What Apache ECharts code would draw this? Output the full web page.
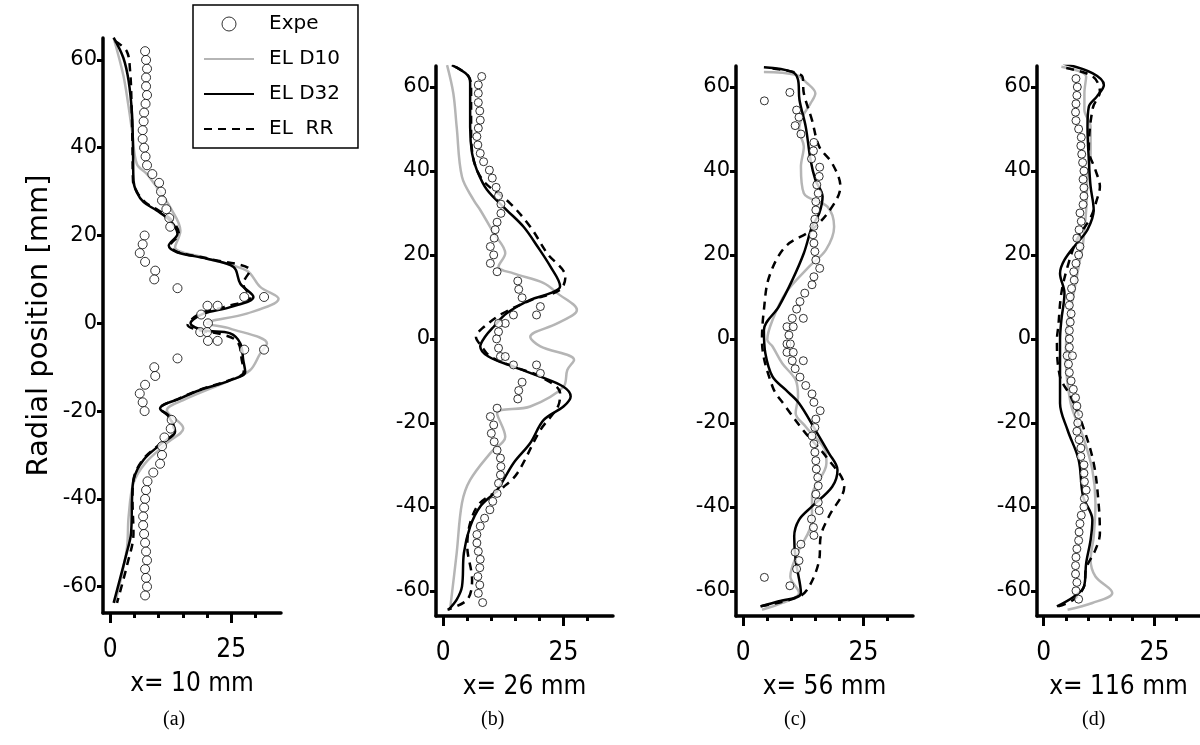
<!DOCTYPE html>
<html>
<head>
<meta charset="utf-8">
<script src="https://cdn.jsdelivr.net/npm/echarts@6/dist/echarts.min.js"></script>
<style>html,body{margin:0;padding:0;background:#fff}#c{width:1200px;height:745px}</style>
</head>
<body>
<div id="c"></div>
<script>
// ---- data: pairs are [radial position (mm), value] ----
const panelTitles = ['x= 10 mm', 'x= 26 mm', 'x= 56 mm', 'x= 116 mm'];
const panelLetters = ['(a)', '(b)', '(c)', '(d)'];
const seriesNames = ['Expe', 'EL D10', 'EL D32', 'EL  RR'];
const xTicks = [0, 5, 10, 15, 20, 25, 30];
const xLabels = [0, 25];
const yTicks = [-60, -40, -20, 0, 20, 40, 60];

const aExpe = [[62,7.2],[60,7.4],[58,7.6],[56,7.4],[54,7.4],[52,7.6],[50,7.3],[48,7.0],[46,6.9],[44,6.7],[42,6.7],[40,7.0],[38,7.3],[36,7.6],[34,8.7],[32,10.1],[30,10.5],[28,10.7],[26,11.6],[24,12.2],[22,12.4],[20,7.1],[18,6.7],[16,6.1],[14,7.2],[12,9.3],[10,9.1],[8,13.9],[6,27.7],[6,31.8],[4,20.1],[4,22.2],[2,18.8],[0,20.2],[-2,18.6],[-2,20.0],[-4,20.2],[-4,22.2],[-6,27.7],[-6,31.8],[-8,13.9],[-10,9.1],[-12,9.3],[-14,7.2],[-16,6.1],[-18,6.7],[-20,7.1],[-22,12.7],[-24,12.5],[-26,11.2],[-28,10.7],[-30,10.7],[-32,10.3],[-34,8.9],[-36,7.7],[-38,7.4],[-40,7.2],[-42,7.0],[-44,6.8],[-46,6.8],[-48,7.0],[-50,7.2],[-52,7.4],[-54,7.6],[-56,7.2],[-58,7.4],[-60,7.6],[-62,7.2]];
const aD10 = [[65,0.7],[56.5,2.7],[50,3.7],[43.9,4.5],[36.3,5.5],[34,7.6],[31,9.6],[26.4,12.4],[21.1,14.5],[17.3,13.4],[15,19.3],[12,28.2],[8.3,31],[5.6,34.8],[2.2,28.2],[0,20],[-1.2,24.8],[-4.6,32.4],[-6.9,31],[-10.7,28.9],[-13,24.8],[-17.5,15.1],[-19.8,11.7],[-23.9,15.1],[-27.3,11.7],[-31.9,7.2],[-36.4,4.8],[-44,3.8],[-51.6,3.4],[-63.7,1.0]];
const aD32 = [[65.1,0.7],[60.5,2.7],[55.2,3.8],[47.7,4.5],[40,4.7],[32.5,4.8],[29.8,5.5],[27.6,6.9],[25.7,9.6],[23.4,12.4],[20.4,13.9],[17.7,12.1],[16.2,13.8],[14.7,20],[12.8,25.5],[9,26.9],[6,29.6],[3.7,24.8],[2.2,19.3],[0,16.6],[-1.6,19.3],[-2.3,24.8],[-4.6,26.9],[-8.4,27.5],[-11.1,27.9],[-13,24.8],[-15.2,18.6],[-17.1,14.5],[-19.4,10.3],[-21.3,12.1],[-24.7,13.4],[-27.3,10.7],[-31.1,6.9],[-35.7,4.8],[-40.2,4.5],[-47.8,4.3],[-52.3,3.4],[-63.7,0.7]];
const aRR = [[64.3,1.0],[62,3.4],[57.5,4.1],[50,4.4],[40,4.6],[32.5,4.7],[29.8,5.6],[27.6,7.2],[25.7,10],[23.4,12.8],[20.4,14.2],[17.7,12.4],[16.2,14],[14.7,20.5],[12,28.9],[9,27.5],[6,29],[3.7,23.5],[2.2,18.5],[-0.4,16],[-1.6,18.5],[-2.5,23],[-4.2,26.3],[-8.4,27.2],[-11.1,27.6],[-13,24.5],[-15.2,18.3],[-17.1,14.3],[-19.4,10.3],[-21.3,12.3],[-24.7,13.2],[-27.3,10.5],[-31.1,6.7],[-35.7,4.8],[-40.2,4.6],[-47.8,4.8],[-55,3.5],[-63.7,1.4]];

const bExpe = [[62.5,8.0],[60.5,7.3],[58.5,7.3],[56.3,7.3],[54.3,7.6],[52.1,7.7],[50.2,7.3],[48.2,7.0],[46.2,7.2],[44.2,7.7],[42.2,8.4],[40.2,9.6],[38.3,10.2],[36.1,11.0],[34.1,11.5],[32.1,12.0],[29.9,12.0],[27.8,11.2],[26,10.8],[24,10.6],[22,9.8],[20,10.5],[18,9.8],[16,11.2],[13.8,15.5],[11.8,15.7],[9.8,16.4],[7.7,20.2],[5.7,19.4],[5.7,14.6],[3.7,12.9],[3.7,11.5],[1.7,11.5],[0,11.1],[-2.2,11.5],[-4.2,11.9],[-4.2,12.9],[-6.2,14.6],[-6.2,19.4],[-8.2,20.2],[-10.3,16.4],[-12.3,15.7],[-14.3,15.5],[-16.5,11.2],[-18.5,9.8],[-20.5,10.5],[-22.5,10.0],[-24.5,10.6],[-26.5,11.2],[-28.4,11.9],[-30.4,12.0],[-32.4,11.9],[-34.4,11.5],[-36.8,11.2],[-38.7,10.3],[-40.7,9.7],[-42.7,8.6],[-44.6,7.7],[-46.6,7.0],[-48.6,7.0],[-50.6,7.3],[-52.5,7.7],[-54.5,7.6],[-56.6,7.2],[-58.6,7.6],[-60.6,7.3],[-62.8,8.2]];
const bD10 = [[65.2,0.8],[58.5,2.1],[50.5,2.8],[38.6,3.9],[33.1,6.3],[30.7,7.7],[25.2,10.5],[20.4,12.9],[17.2,11.5],[15.6,14.6],[13.3,20.9],[10.9,23.7],[6.9,27.8],[3.7,23.7],[0.5,18.1],[-1.8,20.2],[-5,27.2],[-7.4,25.8],[-11.4,25.0],[-16.1,18.1],[-17.7,11.2],[-23.3,12.9],[-27.2,9.8],[-33.6,5.6],[-39.1,3.9],[-51,2.8],[-63.7,1.5]];
const bD32 = [[65.2,1.8],[62.9,5.0],[60.9,5.6],[50.5,5.6],[44.2,6.0],[40.2,7.0],[35.5,9.1],[30.7,13.2],[26.7,16.7],[22,19.6],[17.2,22.3],[12.5,24.3],[10.9,22.3],[9.3,18.1],[6.1,13.2],[2.9,10.5],[0.5,8.7],[-1.8,7.7],[-4.2,9.4],[-6.6,14.6],[-9,20.2],[-11.4,25.0],[-13.7,26.5],[-16.1,25.0],[-19.3,20.9],[-24.8,18.1],[-29.6,14.6],[-36,11.2],[-39.9,7.7],[-44.7,5.6],[-51,4.3],[-59,3.9],[-62.1,2.8],[-64.5,1.1]];
const bRR = [[64.8,2.6],[62.5,5.3],[60,5.8],[50,5.8],[44,6.1],[38,8.1],[32.3,13.9],[26.7,18.1],[20.4,21.6],[14.8,25.4],[11.7,24.3],[9.3,18.4],[6.1,12.4],[2.5,8.1],[0.5,6.8],[-1.8,8.0],[-4.2,9.8],[-6.6,14.6],[-9,20.2],[-12.9,24.3],[-16,23.9],[-21.7,20.2],[-32,15.4],[-35.2,12.6],[-40,7.0],[-49.4,5.0],[-57.4,6.0],[-62.1,5.0],[-64.5,0.9]];

const cExpe = [[58.7,9.7],[56.7,4.4],[54.5,11.1],[52.8,11.6],[50.8,10.8],[48.8,12.0],[46.8,14.7],[44.8,14.6],[42.9,14.2],[40.9,15.9],[38.7,15.8],[36.7,15.3],[34.7,15.6],[32.7,15.1],[30.7,15.1],[28.5,14.9],[26.8,14.7],[24.8,14.5],[22.8,14.7],[20.8,14.9],[18.8,15.1],[16.8,15.9],[14.8,14.7],[12.9,14.3],[10.9,12.8],[8.9,11.8],[7.1,11.1],[4.9,12.5],[4.9,10.2],[2.9,9.1],[2.9,10.4],[0.9,9.5],[-1.2,9.1],[-1.2,9.8],[-3.2,9.1],[-3.2,10.4],[-5.2,10.2],[-5.2,12.5],[-7.1,10.8],[-9.1,11.8],[-11.1,13.0],[-13.1,14.3],[-15.1,14.7],[-17.1,16.0],[-19.1,15.1],[-21.1,14.9],[-23.1,14.3],[-25,14.7],[-27,14.9],[-29,15.1],[-31,15.2],[-33,15.5],[-35,15.6],[-37,15.1],[-38.9,15.6],[-40.9,15.8],[-42.9,14.2],[-44.9,14.6],[-46.8,14.7],[-48.9,12.0],[-50.8,10.8],[-52.8,11.6],[-54.8,11.1],[-56.8,4.4],[-58.8,9.7]];
const cD10 = [[63.6,4.3],[62.9,10.9],[60.9,13.3],[58.5,15.0],[56.1,14.0],[52.9,12.3],[49.8,11.6],[45.8,12.6],[41,12.0],[34.7,12.6],[31.5,17.5],[26.7,18.9],[21.2,17.2],[17.2,13.7],[10.9,8.8],[4.5,6.1],[-0.2,5.0],[-1.8,6.1],[-5.8,8.1],[-9.8,10.9],[-13.7,11.4],[-17.7,10.9],[-20.9,13.0],[-27.2,17.2],[-29.6,17.3],[-37.5,14.3],[-43.1,14.3],[-51,11.3],[-56.6,9.8],[-60.5,11.6],[-62.9,8.1],[-64.5,3.9]];
const cD32 = [[64.7,4.3],[63.6,10.2],[61.7,11.4],[56.9,11.7],[50.5,13.0],[42.6,14.0],[37.9,15.0],[33.9,16.5],[29.9,15.8],[26.7,14.3],[20.4,12.6],[14,10.2],[7.7,7.4],[2.1,4.3],[-3.4,4.6],[-9,6.1],[-12.1,8.8],[-15.3,11.6],[-21.7,15.0],[-27.2,17.8],[-31.2,19.6],[-35.2,18.5],[-39.9,14.3],[-43.1,11.6],[-47.1,10.6],[-52.6,10.9],[-60.5,12.0],[-62.5,7.4],[-63.7,3.6]];
const cRR = [[64.4,6.1],[62.5,12.3],[58.5,12.6],[52.1,14.3],[45.8,15.8],[41.8,18.5],[36.3,20.2],[31.5,18.5],[26,14.3],[22,8.8],[14.8,5.4],[6.9,4.3],[-0.2,3.9],[-11.4,6.1],[-16.1,8.8],[-22.5,13.0],[-28,17.2],[-35.2,21.0],[-42.3,17.8],[-47.1,16.1],[-52.6,15.8],[-59,13.7],[-61.4,11.6],[-63.7,3.6]];

const dExpe = [[62,7.3],[60,7.6],[58,7.5],[56,7.3],[54,7.2],[52,7.3],[50,7.9],[48,8.5],[46,8.4],[44,8.6],[42,8.8],[40,9.1],[38,8.9],[36,9.1],[34,9.1],[32,8.9],[30,8.2],[28,8.5],[26,8.0],[24,7.5],[22,8.2],[20,7.9],[18,7.3],[16,6.8],[14,6.9],[12,6.3],[10,6.0],[8,5.8],[6,6.2],[4,6.0],[2,5.8],[0,5.8],[-2,5.8],[-4,5.3],[-4,6.5],[-6,5.6],[-8,5.8],[-10,6.2],[-12,6.7],[-14,7.2],[-16,7.5],[-18,7.9],[-20,7.7],[-22,7.5],[-24,8.0],[-26,8.4],[-28,8.4],[-30,9.1],[-32,9.1],[-34,9.2],[-36,9.6],[-38,9.2],[-40,9.1],[-42,8.5],[-44,8.2],[-46,8.0],[-48,7.9],[-50,7.5],[-52,7.3],[-54,7.2],[-56,7.2],[-58,7.5],[-60,7.3],[-62,7.9]];
const dD10 = [[64.8,4.0],[62.5,9.6],[58.5,9.2],[54.5,9.2],[50.5,10.6],[44.2,10.6],[38.6,9.9],[30.7,9.6],[22.8,8.9],[17.2,7.9],[10.9,6.8],[2.9,5.4],[-3.4,5.0],[-15.3,6.1],[-23.3,8.9],[-31.2,11.0],[-39.1,11.7],[-47.1,11.3],[-52.6,10.6],[-56.6,11.7],[-60.5,15.5],[-62.9,11.0],[-64.5,5.4]];
const dD32 = [[65.6,4.4],[63.3,11.0],[60.5,13.6],[57.7,12.0],[55.3,10.2],[50.5,9.9],[42.6,10.2],[36.3,10.6],[30.7,11.3],[26,9.9],[22.8,7.5],[18.8,4.7],[15.6,3.7],[10.9,4.7],[4.5,4.0],[-0.2,3.7],[-3.4,3.7],[-15.3,3.7],[-21.7,5.4],[-28.8,7.9],[-37.5,8.9],[-43.1,11.0],[-47.9,10.6],[-53.4,9.6],[-59,9.1],[-61.4,6.8],[-63.7,3.0]];
const dRR = [[64.5,5.1],[62.5,11.1],[58.9,12.7],[55,11.1],[45,10.2],[40.2,11.7],[36.3,12.7],[33.1,12.0],[28.9,10.6],[23.6,7.5],[17.2,5.4],[10.9,4.0],[2.9,3.3],[-0.2,3.0],[-9,3.7],[-13.7,6.1],[-20.9,8.9],[-29.6,11.3],[-39.1,12.4],[-46.3,12.7],[-50.2,11.7],[-54.6,9.6],[-59,9.1],[-62.1,6.8],[-63.7,3.3]];

const panels = [
  {expe: aExpe, d10: aD10, d32: aD32, rr: aRR},
  {expe: bExpe, d10: bD10, d32: bD32, rr: bRR},
  {expe: cExpe, d10: cD10, d32: cD32, rr: cRR},
  {expe: dExpe, d10: dD10, d32: dD32, rr: dRR}
];

// ---- layout / style ----
const grids = [
  {left: 103, top: 38, width: 178, height: 575},
  {left: 436, top: 66, width: 177, height: 550},
  {left: 736, top: 66, width: 177, height: 550},
  {left: 1037, top: 66, width: 177, height: 550}
];
const letterPos = [175, 493, 796, 1094];
const X_MIN = -1.5, X_MAX = 35.3, Y_MIN = -66, Y_MAX = 65;
const GRAY = '#b5b5b5';
const numFont = 'DejaVu Sans';
const narrowFont = "'Liberation Sans Narrow', 'DejaVu Sans Condensed', 'Liberation Sans', sans-serif";

const toXY = arr => arr.map(p => [p[1], p[0]]);

const xAxis = [], yAxis = [], series = [];
grids.forEach((g, i) => {
  xAxis.push({
    type: 'value', gridIndex: i, min: X_MIN, max: X_MAX,
    splitLine: {show: false},
    axisLine: {show: true, onZero: false, lineStyle: {color: '#000', width: 3.5}},
    axisTick: {show: true, length: 5, lineStyle: {color: '#000', width: 3}, customValues: xTicks},
    axisLabel: {show: true, customValues: xLabels, margin: 24, color: '#000', fontSize: 26, fontFamily: narrowFont},
    name: panelTitles[i], nameLocation: 'middle', nameGap: 58,
    nameTextStyle: {color: '#000', fontSize: 26, fontFamily: narrowFont}
  });
  yAxis.push({
    type: 'value', gridIndex: i, min: Y_MIN, max: Y_MAX,
    splitLine: {show: false},
    axisLine: {show: true, onZero: false, lineStyle: {color: '#000', width: 3.5}},
    axisTick: {show: true, length: 6, lineStyle: {color: '#000', width: 3}, customValues: yTicks},
    axisLabel: {show: true, customValues: yTicks, margin: 6, color: '#000', fontSize: 21, fontFamily: numFont},
    name: i === 0 ? 'Radial position [mm]' : '', nameLocation: 'middle', nameGap: 49,
    nameTextStyle: {color: '#000', fontSize: 29, fontFamily: numFont}
  });
});
// second x axes for the longer major ticks at 0 and 25
grids.forEach((g, i) => {
  xAxis.push({
    type: 'value', gridIndex: i, min: X_MIN, max: X_MAX, position: 'bottom',
    splitLine: {show: false}, axisLine: {show: false, onZero: false},
    axisTick: {show: true, length: 10, lineStyle: {color: '#000', width: 3}, customValues: xLabels},
    axisLabel: {show: false}
  });
});

panels.forEach((p, i) => {
  series.push({
    name: seriesNames[1], type: 'line', xAxisIndex: i, yAxisIndex: i,
    data: toXY(p.d10), smooth: 0.35, symbol: 'none',
    lineStyle: {color: GRAY, width: 2.5}, itemStyle: {color: GRAY}, z: 2
  });
  series.push({
    name: seriesNames[2], type: 'line', xAxisIndex: i, yAxisIndex: i,
    data: toXY(p.d32), smooth: 0.35, symbol: 'none',
    lineStyle: {color: '#000', width: 2.5}, itemStyle: {color: '#000'}, z: 3
  });
  series.push({
    name: seriesNames[3], type: 'line', xAxisIndex: i, yAxisIndex: i,
    data: toXY(p.rr), smooth: 0.35, symbol: 'none',
    lineStyle: {color: '#000', width: 2.5, type: [8, 6]}, itemStyle: {color: '#000'}, z: 3
  });
  series.push({
    name: seriesNames[0], type: 'scatter', xAxisIndex: i, yAxisIndex: i,
    data: toXY(p.expe), symbol: 'circle', symbolSize: i === 0 ? 9 : 8,
    itemStyle: {color: '#fff', borderColor: '#000', borderWidth: 1}, z: 4
  });
});

const graphic = panelLetters.map((t, i) => ({
  type: 'text', left: letterPos[i] - 12, top: 710,
  style: {text: t, fill: '#000', font: "20px 'Liberation Serif', 'Times New Roman', serif"}
}));

const hiddenSym = {opacity: 0, color: 'rgba(0,0,0,0)', borderWidth: 0};
const chart = echarts.init(document.getElementById('c'), null, {renderer: 'canvas'});
chart.setOption({
  animation: false,
  backgroundColor: '#fff',
  grid: grids.map(g => Object.assign({containLabel: false}, g)),
  xAxis, yAxis, series, graphic,
  legend: {
    data: [
      {name: 'Expe', icon: 'circle', itemStyle: {color: '#fff', borderColor: '#000', borderWidth: 1}},
      {name: 'EL D10', itemStyle: hiddenSym},
      {name: 'EL D32', itemStyle: hiddenSym},
      {name: 'EL  RR', itemStyle: hiddenSym}
    ],
    orient: 'vertical', left: 193, top: 5,
    padding: [9, 18, 9, 10],
    itemWidth: 50, itemHeight: 14, itemGap: 15,
    borderColor: '#000', borderWidth: 1.5, backgroundColor: '#fff',
    textStyle: {color: '#000', fontSize: 20, fontFamily: numFont, padding: [0, 0, 0, 10]},
    selectedMode: false
  }
});
</script>
</body>
</html>
